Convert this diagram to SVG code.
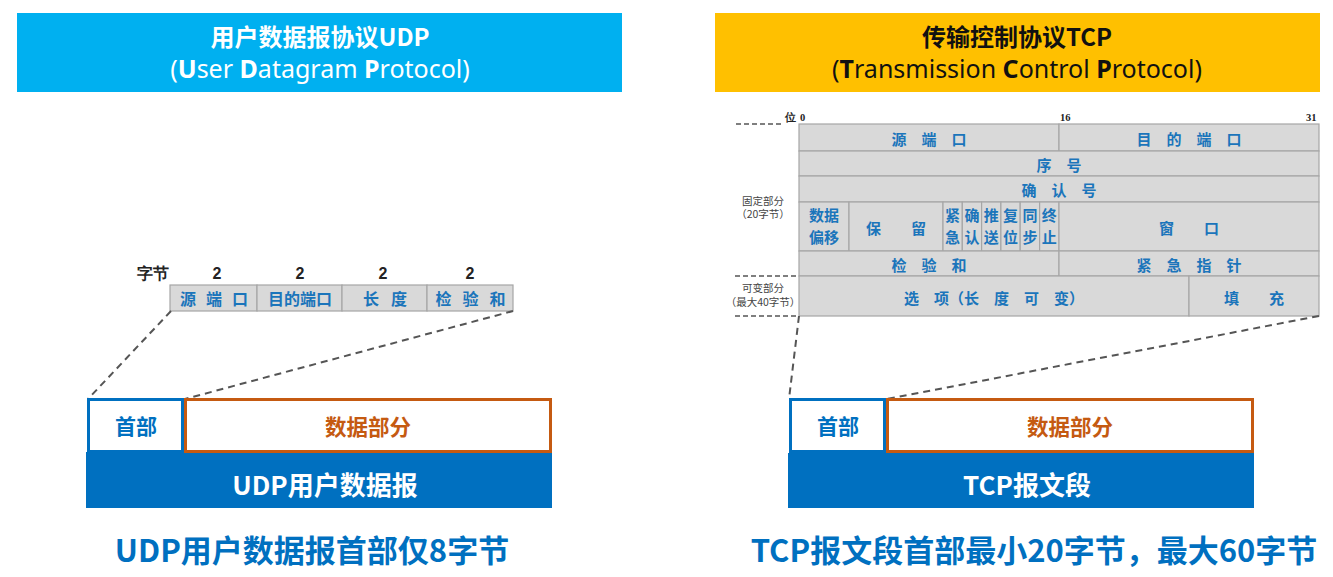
<svg xmlns="http://www.w3.org/2000/svg" width="1333" height="577" viewBox="0 0 1333 577">
<defs>
<style>
text{font-family:"Noto Sans","Noto Sans CJK SC",sans-serif;}
.cjk{font-family:"Noto Sans CJK SC","Noto Sans",sans-serif;}
.ttl{font-size:24px;font-weight:bold;text-anchor:middle;}
.sub{font-size:25px;text-anchor:middle;}
.cell{fill:#D9D9D9;stroke:#A6A6A6;stroke-width:1.2;}
.lbl{font-family:"Noto Sans CJK SC",sans-serif;font-size:15px;font-weight:bold;fill:#1B75BB;text-anchor:middle;dominant-baseline:central;}
.flag{font-family:"Noto Sans CJK SC",sans-serif;font-size:15px;font-weight:bold;fill:#1B75BB;text-anchor:middle;}
.num{font-family:"Liberation Sans",sans-serif;font-size:16px;font-weight:bold;fill:#222;text-anchor:middle;}
.bit{font-family:"Liberation Serif",serif;font-size:10.5px;font-weight:bold;fill:#222;}
.side{font-family:"Noto Sans CJK SC",sans-serif;font-size:10.5px;fill:#444;text-anchor:middle;}
.dash{stroke:#555;stroke-width:2;stroke-dasharray:7,5;fill:none;}
.dash2{stroke:#555;stroke-width:1.5;stroke-dasharray:5,3;fill:none;}
.hdr{fill:#fff;stroke:#0070C0;stroke-width:3;}
.dat{fill:#fff;stroke:#C55A11;stroke-width:3;}
.bar{fill:#0070C0;}
.hdrT{font-family:"Noto Sans CJK SC",sans-serif;font-size:21px;font-weight:bold;fill:#0070C0;text-anchor:middle;dominant-baseline:central;}
.datT{font-family:"Noto Sans CJK SC",sans-serif;font-size:21.5px;font-weight:bold;fill:#C55A11;text-anchor:middle;dominant-baseline:central;}
.barT{font-family:"Noto Sans CJK SC",sans-serif;font-size:26px;font-weight:bold;fill:#fff;text-anchor:middle;dominant-baseline:central;}
.big{font-family:"Noto Sans CJK SC",sans-serif;font-size:31px;font-weight:bold;fill:#0070C0;text-anchor:middle;dominant-baseline:central;}
.ul{font-family:"Noto Sans CJK SC",sans-serif;font-size:16px;font-weight:bold;fill:#1B75BB;text-anchor:middle;dominant-baseline:central;}
</style>
</defs>
<rect width="1333" height="577" fill="#fff"/>

<g id="udp-title">
<rect x="17" y="13" width="605" height="79" fill="#00B0F0"/>
<text class="ttl cjk" x="320" y="46" fill="#fff">用户数据报协议UDP</text>
<text class="sub" x="320" y="78" fill="#fff">(<tspan font-weight="bold">U</tspan>ser <tspan font-weight="bold">D</tspan>atagram <tspan font-weight="bold">P</tspan>rotocol)</text>
</g>

<g id="tcp-title">
<rect x="715" y="13" width="605" height="79" fill="#FFC000"/>
<text class="ttl cjk" x="1017" y="46" fill="#111">传输控制协议TCP</text>
<text class="sub" x="1017" y="78" fill="#111">(<tspan font-weight="bold">T</tspan>ransmission <tspan font-weight="bold">C</tspan>ontrol <tspan font-weight="bold">P</tspan>rotocol)</text>
</g>

<g id="udp-header-table">
<text class="num cjk" x="153" y="279">字节</text>
<text class="num" x="217" y="279">2</text>
<text class="num" x="300" y="279">2</text>
<text class="num" x="383" y="279">2</text>
<text class="num" x="470" y="279">2</text>
<rect class="cell" x="170" y="285" width="87" height="26"/>
<rect class="cell" x="257" y="285" width="85" height="26"/>
<rect class="cell" x="342" y="285" width="85" height="26"/>
<rect class="cell" x="427" y="285" width="86" height="26"/>
<text class="ul" x="219" y="298" letter-spacing="10">源端口</text>
<text class="ul" x="300" y="298">目的端口</text>
<text class="ul" x="391" y="298" letter-spacing="12">长度</text>
<text class="ul" x="476" y="298" letter-spacing="11">检验和</text>
</g>

<g id="tcp-header-table">
<text class="bit cjk" x="785" y="121" font-size="11">位</text>
<text class="bit" x="800" y="121">0</text>
<text class="bit" x="1060" y="121">16</text>
<text class="bit" x="1306" y="121">31</text>
<rect class="cell" x="799" y="124" width="260" height="27"/>
<rect class="cell" x="1059" y="124" width="260" height="27"/>
<rect class="cell" x="799" y="151" width="520" height="25"/>
<rect class="cell" x="799" y="176" width="520" height="26"/>
<rect class="cell" x="799" y="202" width="50" height="49"/>
<rect class="cell" x="849" y="202" width="94" height="49"/>
<rect class="cell" x="943" y="202" width="19.3" height="49"/>
<rect class="cell" x="962.3" y="202" width="19.3" height="49"/>
<rect class="cell" x="981.6" y="202" width="19.3" height="49"/>
<rect class="cell" x="1000.9" y="202" width="19.3" height="49"/>
<rect class="cell" x="1020.2" y="202" width="19.4" height="49"/>
<rect class="cell" x="1039.6" y="202" width="19.4" height="49"/>
<rect class="cell" x="1059" y="202" width="260" height="49"/>
<rect class="cell" x="799" y="251" width="260" height="25"/>
<rect class="cell" x="1059" y="251" width="260" height="25"/>
<rect class="cell" x="799" y="276" width="390" height="40"/>
<rect class="cell" x="1189" y="276" width="130" height="40"/>
<text class="lbl" x="929" y="138">源　端　口</text>
<text class="lbl" x="1189" y="138">目　的　端　口</text>
<text class="lbl" x="1059" y="164">序　号</text>
<text class="lbl" x="1059" y="189">确　认　号</text>
<text class="flag" x="824" y="221">数据</text>
<text class="flag" x="824" y="243">偏移</text>
<text class="lbl" x="896" y="227">保　　留</text>
<text class="flag" x="952.6" y="221">紧</text><text class="flag" x="952.6" y="243">急</text>
<text class="flag" x="972" y="221">确</text><text class="flag" x="972" y="243">认</text>
<text class="flag" x="991.2" y="221">推</text><text class="flag" x="991.2" y="243">送</text>
<text class="flag" x="1010.5" y="221">复</text><text class="flag" x="1010.5" y="243">位</text>
<text class="flag" x="1029.9" y="221">同</text><text class="flag" x="1029.9" y="243">步</text>
<text class="flag" x="1049.3" y="221">终</text><text class="flag" x="1049.3" y="243">止</text>
<text class="lbl" x="1189" y="227">窗　　口</text>
<text class="lbl" x="929" y="264">检　验　和</text>
<text class="lbl" x="1189" y="264">紧　急　指　针</text>
<text class="lbl" x="994" y="297">选　项（长　度　可　变）</text>
<text class="lbl" x="1254" y="297">填　　充</text>
<text class="side" x="763" y="205">固定部分</text>
<text class="side" x="763" y="218">（20字节）</text>
<text class="side" x="763" y="292">可变部分</text>
<text class="side" x="763" y="306" font-size="10">（最大40字节）</text>
</g>

<g id="connectors">
<line class="dash" x1="171" y1="311" x2="88" y2="399"/>
<line class="dash" x1="513" y1="311" x2="185" y2="399"/>
<line class="dash" x1="799" y1="316" x2="789" y2="399"/>
<line class="dash" x1="1319" y1="316" x2="887" y2="399"/>
<line class="dash2" x1="736" y1="124" x2="783" y2="124"/>
<line class="dash2" x1="735" y1="276" x2="799" y2="276"/>
<line class="dash2" x1="735" y1="316" x2="799" y2="316"/>
</g>

<g id="udp-datagram">
<rect class="bar" x="86" y="452" width="466" height="56"/>
<rect class="hdr" x="88.5" y="399.5" width="94" height="52"/>
<rect class="dat" x="185.5" y="399.5" width="365" height="52"/>
<text class="hdrT" x="136" y="425">首部</text>
<text class="datT" x="368" y="425">数据部分</text>
<text class="barT" x="325" y="483">UDP用户数据报</text>
</g>

<g id="tcp-segment">
<rect class="bar" x="788" y="453" width="466" height="55"/>
<rect class="hdr" x="790.5" y="399.5" width="94" height="52"/>
<rect class="dat" x="887.5" y="399.5" width="365" height="52"/>
<text class="hdrT" x="838" y="425">首部</text>
<text class="datT" x="1070" y="425">数据部分</text>
<text class="barT" x="1027" y="483">TCP报文段</text>
</g>

<g id="captions">
<text class="big" x="312" y="548">UDP用户数据报首部仅8字节</text>
<text class="big" x="1034" y="548">TCP报文段首部最小20字节，最大60字节</text>
</g>
</svg>
